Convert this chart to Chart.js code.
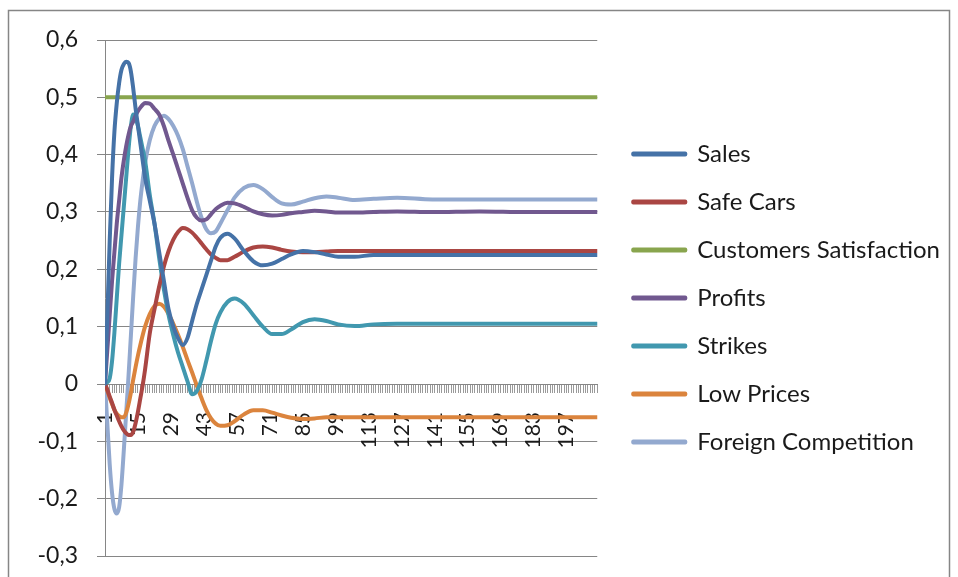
<!DOCTYPE html>
<html>
<head>
<meta charset="utf-8">
<title>System dynamics</title>
<script src="https://cdn.jsdelivr.net/npm/chart.js@4.4.1/dist/chart.umd.min.js"></script>
<style>
    html, body { margin: 0; padding: 0; background: #fff; }
    #wrap { width: 958px; height: 577px; }
</style>
</head>
<body>
<div id="wrap"><canvas id="chart" width="958" height="577"></canvas></div>
<script>
const steps = [1, 2, 3, 4, 5, 6, 7, 8, 9, 10, 11, 12, 13, 14, 15, 16, 17, 18, 20, 22, 24, 26, 28, 30, 32, 34, 36, 38, 40, 42, 44, 46, 48, 50, 53, 56, 60, 64, 68, 72, 76, 80, 85, 90, 95, 100, 107, 115, 125, 140, 160, 180, 210];
const lastStep = 210;
const labelEvery = 14;

// Series values
const sales = [0, 0.12, 0.25, 0.36, 0.44, 0.49, 0.525, 0.548, 0.558, 0.562, 0.56, 0.545, 0.515, 0.48, 0.45, 0.42, 0.39, 0.36, 0.32, 0.28, 0.23, 0.18, 0.13, 0.1, 0.08, 0.068, 0.08, 0.11, 0.14, 0.165, 0.19, 0.215, 0.24, 0.255, 0.262, 0.254, 0.232, 0.214, 0.207, 0.21, 0.218, 0.226, 0.232, 0.23, 0.226, 0.222, 0.222, 0.225, 0.225, 0.225, 0.225, 0.225, 0.225];
const safeCars = [0, -0.01, -0.022, -0.033, -0.045, -0.055, -0.065, -0.074, -0.081, -0.086, -0.089, -0.089, -0.083, -0.068, -0.048, -0.025, -0.002, 0.025, 0.088, 0.13, 0.17, 0.205, 0.232, 0.252, 0.265, 0.272, 0.27, 0.264, 0.255, 0.245, 0.235, 0.226, 0.22, 0.216, 0.216, 0.222, 0.231, 0.238, 0.24, 0.238, 0.234, 0.231, 0.23, 0.23, 0.231, 0.232, 0.232, 0.232, 0.232, 0.232, 0.232, 0.232, 0.232];
const satisfaction = [0.5, 0.5, 0.5, 0.5, 0.5, 0.5, 0.5, 0.5, 0.5, 0.5, 0.5, 0.5, 0.5, 0.5, 0.5, 0.5, 0.5, 0.5, 0.5, 0.5, 0.5, 0.5, 0.5, 0.5, 0.5, 0.5, 0.5, 0.5, 0.5, 0.5, 0.5, 0.5, 0.5, 0.5, 0.5, 0.5, 0.5, 0.5, 0.5, 0.5, 0.5, 0.5, 0.5, 0.5, 0.5, 0.5, 0.5, 0.5, 0.5, 0.5, 0.5, 0.5, 0.5];
const profits = [0, 0.06, 0.12, 0.18, 0.23, 0.28, 0.32, 0.36, 0.39, 0.415, 0.435, 0.45, 0.458, 0.468, 0.476, 0.482, 0.487, 0.49, 0.489, 0.48, 0.47, 0.45, 0.424, 0.4, 0.375, 0.35, 0.325, 0.303, 0.29, 0.285, 0.287, 0.296, 0.305, 0.311, 0.316, 0.315, 0.309, 0.301, 0.296, 0.294, 0.295, 0.298, 0.3, 0.302, 0.301, 0.299, 0.299, 0.3, 0.301, 0.3, 0.301, 0.3, 0.3];
const strikes = [0, 0.003, 0.01, 0.04, 0.09, 0.15, 0.21, 0.26, 0.31, 0.36, 0.41, 0.45, 0.47, 0.465, 0.45, 0.43, 0.41, 0.39, 0.33, 0.28, 0.22, 0.165, 0.12, 0.085, 0.055, 0.03, 0.005, -0.018, -0.012, 0.008, 0.04, 0.075, 0.105, 0.125, 0.143, 0.149, 0.14, 0.12, 0.1, 0.087, 0.087, 0.095, 0.108, 0.113, 0.11, 0.104, 0.101, 0.104, 0.105, 0.105, 0.105, 0.105, 0.105];
const lowPrices = [0, -0.012, -0.024, -0.035, -0.045, -0.052, -0.056, -0.058, -0.058, -0.05, -0.035, -0.015, 0.008, 0.03, 0.05, 0.068, 0.085, 0.1, 0.122, 0.136, 0.14, 0.135, 0.122, 0.105, 0.086, 0.065, 0.042, 0.02, -0.003, -0.025, -0.045, -0.06, -0.069, -0.073, -0.072, -0.065, -0.053, -0.046, -0.046, -0.05, -0.055, -0.059, -0.061, -0.06, -0.058, -0.058, -0.058, -0.058, -0.058, -0.058, -0.058, -0.058, -0.058];
const foreignComp = [0, -0.07, -0.14, -0.19, -0.218, -0.226, -0.215, -0.175, -0.115, -0.05, 0.015, 0.085, 0.155, 0.22, 0.275, 0.32, 0.355, 0.385, 0.425, 0.45, 0.463, 0.468, 0.462, 0.45, 0.433, 0.41, 0.38, 0.35, 0.318, 0.29, 0.27, 0.263, 0.266, 0.28, 0.303, 0.325, 0.342, 0.347, 0.34, 0.326, 0.315, 0.313, 0.318, 0.324, 0.327, 0.325, 0.321, 0.323, 0.325, 0.322, 0.322, 0.322, 0.322];

const seriesNames = ['Sales', 'Safe Cars', 'Customers Satisfaction', 'Profits', 'Strikes', 'Low Prices', 'Foreign Competition'];
const seriesColors = ['#4572A7', '#AA4643', '#89A54E', '#71588F', '#4198AF', '#DB843D', '#93A9CF'];
const seriesValues = [sales, safeCars, satisfaction, profits, strikes, lowPrices, foreignComp];

const yMin = -0.3;
const yMax = 0.6;
const yStep = 0.1;

Chart.defaults.font.family = 'Lato, Carlito, "Open Sans", sans-serif';
Chart.defaults.color = '#1a1a1a';

function toPoints(values) {
    return steps.map((k, i) => ({ x: k, y: values[i] }));
}

function formatY(v) {
    if (Math.abs(v) < 1e-9) return '0';
    return v.toFixed(1).replace('.', ',');
}

// white page + grey outer frame like the Excel chart object
const frame = {
    id: 'frame',
    beforeDraw(chart) {
        const ctx = chart.ctx;
        ctx.save();
        ctx.fillStyle = '#fff';
        ctx.fillRect(0, 0, chart.width, chart.height);
        ctx.strokeStyle = '#868686';
        ctx.lineWidth = 1.5;
        ctx.strokeRect(8.5, 10.5, 941, 600);
        ctx.restore();
    }
};

// the layout caps a side legend at a quarter of the width, so widen it
// by hand and line it up with the plot area
const legendPlace = {
    id: 'legendPlace',
    afterLayout(chart) {
        const lg = chart.legend;
        const area = chart.chartArea;
        lg.left = area.right + 12;
        lg.right = chart.width - 2;
        lg.width = lg.right - lg.left;
        lg.top = area.top;
        lg.bottom = area.bottom;
        lg.height = lg.bottom - lg.top;
    }
};

const datasets = seriesNames.map((name, i) => ({
    label: name,
    data: toPoints(seriesValues[i]),
    borderColor: seriesColors[i],
    backgroundColor: seriesColors[i],
    borderWidth: 4,
    pointRadius: 0,
    cubicInterpolationMode: 'monotone',
    borderCapStyle: 'round',
    borderJoinStyle: 'round'
}));

new Chart(document.getElementById('chart').getContext('2d'), {
    type: 'line',
    data: { datasets: datasets },
    options: {
        responsive: false,
        animation: false,
        devicePixelRatio: 1,
        layout: { padding: { left: 10, top: 40, right: 165, bottom: 21 } },
        plugins: {
            legend: {
                position: 'right',
                labels: {
                    boxWidth: 52,
                    boxHeight: 1,
                    padding: 24,
                    font: { size: 24 },
                    color: '#1a1a1a'
                }
            },
            tooltip: { enabled: false }
        },
        scales: {
            x: {
                type: 'linear',
                min: 1,
                max: lastStep,
                position: { y: 0 },
                afterFit: (scale) => { scale.height = 0; },
                grid: {
                    display: true,
                    drawOnChartArea: false,
                    drawTicks: true,
                    tickLength: 8,
                    color: '#9a9a9a'
                },
                border: { display: true, color: '#868686' },
                ticks: {
                    stepSize: 1,
                    autoSkip: false,
                    minRotation: 90,
                    maxRotation: 90,
                    padding: 20,
                    font: { size: 21 },
                    callback: (v) => ((v - 1) % labelEvery === 0 ? String(v) : '')
                }
            },
            y: {
                min: yMin,
                max: yMax,
                afterFit: (scale) => {
                    scale.width = 95;
                    scale.paddingTop = 0;
                    scale.paddingBottom = 0;
                },
                grid: { color: '#868686', tickLength: 8 },
                border: { display: true, color: '#868686' },
                ticks: {
                    stepSize: yStep,
                    padding: 19,
                    font: { size: 23 },
                    callback: (v) => formatY(v)
                }
            }
        }
    },
    plugins: [frame, legendPlace]
});
</script>
</body>
</html>
